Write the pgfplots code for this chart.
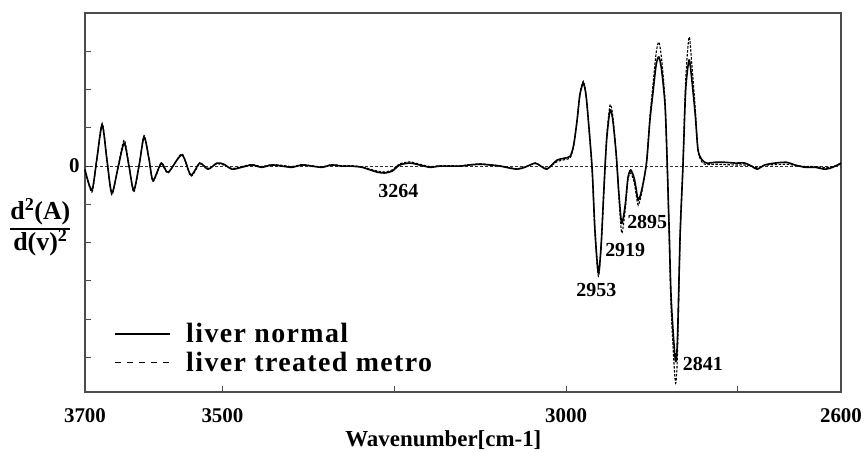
\documentclass[border=0pt]{standalone}
\usepackage{fontspec}
\setmainfont{Liberation Serif}
\newfontfamily\legfont[LetterSpace=5]{Liberation Serif}
\usepackage{pgfplots}
\pgfplotsset{compat=1.18}

\pgfplotstableread{
w v
3700 -0.10
3690 -0.63
3683 0.15
3675 1.07
3668 0.15
3661 -0.70
3652 -0.05
3643 0.60
3636 0.00
3629 -0.63
3621 0.05
3614 0.76
3607 0.20
3601 -0.37
3589 0.08
3579 -0.16
3559 0.29
3546 -0.23
3533 0.08
3521 -0.08
3508 0.08
3498 0.05
3486 -0.08
3472 -0.03
3457 0.03
3443 -0.03
3428 0.03
3413 0.00
3399 -0.03
3384 0.03
3370 0.00
3355 -0.03
3341 0.03
3326 0.00
3312 0.00
3297 -0.03
3285 -0.10
3274 -0.16
3264 -0.18
3253 -0.13
3242 0.03
3227 0.08
3213 0.03
3198 -0.03
3184 0.00
3169 0.00
3154 0.00
3140 0.03
3125 0.05
3111 0.03
3096 0.00
3082 -0.05
3071 -0.08
3060 -0.03
3045 0.08
3037 0.00
3028 -0.08
3021 0.03
3013 0.16
3002 0.21
2994 0.26
2989 0.55
2984 1.20
2980 1.85
2975 2.17
2971 1.85
2967 1.07
2962 -0.10
2958 -1.67
2953 -2.79
2949 -2.06
2945 -0.63
2941 0.68
2936 1.46
2932 1.20
2927 0.29
2923 -0.76
2919 -1.49
2914 -1.02
2910 -0.31
2906 -0.10
2901 -0.31
2898 -0.60
2895 -0.89
2890 -0.63
2883 0.08
2878 1.20
2874 1.85
2869 2.64
2865 2.85
2861 2.51
2856 1.59
2853 0.16
2850 -1.67
2847 -3.50
2841 -5.07
2838 -4.54
2834 -1.75
2830 -0.03
2826 1.98
2821 2.77
2817 2.25
2812 1.33
2808 0.42
2802 0.16
2795 0.08
2783 0.10
2769 0.10
2754 0.08
2740 0.08
2730 0.00
2722 -0.08
2711 0.03
2696 0.08
2679 0.10
2667 0.03
2652 -0.03
2638 -0.03
2623 -0.08
2612 -0.03
2600 0.08
}\normal

\pgfplotstableread{
w v
3700 -0.08
3690 -0.68
3683 0.15
3675 1.12
3668 0.18
3661 -0.75
3652 -0.02
3643 0.68
3636 0.02
3629 -0.68
3621 0.05
3614 0.80
3607 0.20
3601 -0.40
3589 0.06
3579 -0.18
3559 0.32
3546 -0.26
3533 0.06
3521 -0.06
3508 0.06
3498 0.03
3486 -0.06
3472 -0.01
3457 0.04
3443 -0.01
3428 0.04
3413 0.02
3399 -0.01
3384 0.04
3370 0.01
3355 -0.02
3341 0.04
3326 0.01
3312 0.01
3297 -0.02
3285 -0.08
3274 -0.13
3264 -0.15
3253 -0.10
3242 0.06
3227 0.11
3213 0.05
3198 -0.01
3184 0.01
3169 0.01
3154 0.01
3140 0.04
3125 0.06
3111 0.04
3096 0.01
3082 -0.04
3071 -0.07
3060 -0.02
3045 0.07
3037 0.01
3028 -0.06
3021 0.02
3013 0.12
3002 0.17
2994 0.22
2989 0.52
2984 1.18
2980 1.87
2975 2.22
2971 1.88
2967 1.05
2962 -0.15
2958 -1.75
2953 -2.88
2949 -2.10
2945 -0.60
2941 0.75
2936 1.60
2932 1.30
2927 0.30
2923 -0.85
2919 -1.75
2914 -1.15
2910 -0.35
2906 -0.18
2901 -0.42
2898 -0.75
2895 -1.02
2890 -0.70
2883 0.10
2878 1.30
2874 2.05
2869 2.95
2865 3.24
2861 2.80
2856 1.70
2853 0.10
2850 -1.85
2847 -3.80
2841 -5.64
2838 -4.95
2834 -1.85
2830 0.05
2826 2.25
2821 3.37
2817 2.65
2812 1.50
2808 0.40
2802 0.10
2795 0.04
2783 0.05
2769 0.04
2754 0.03
2740 0.03
2730 0.00
2722 -0.04
2711 0.02
2696 0.04
2679 0.05
2667 0.02
2652 -0.01
2638 -0.01
2623 -0.04
2612 -0.01
2600 0.05
}\treated

\begin{document}
\begin{tikzpicture}
\begin{axis}[
  width=756bp, height=379bp, scale only axis,
  x dir=reverse, xmin=2600, xmax=3700, ymin=-5.9, ymax=4,
  xtick={3700,3500,3250,3000,2750,2600},
  xticklabels={3700,3500,,3000,,2600},
  ytick={-5,-4,-3,-2,-1,0,1,2,3},
  yticklabels={{},{},{},{},{},0,{},{},{}},
  xtick pos=bottom, ytick pos=left, tick align=inside,
  major tick length=6bp,
  tick style={black!70, line width=1bp},
  axis line style={black!70, line width=1.3bp},
  /pgf/number format/assume math mode=true,
  ticklabel style={font=\bfseries\fontsize{21}{21}\selectfont},
  xticklabel style={yshift=-13bp},
  yticklabel style={xshift=-2bp},
  xlabel={Wavenumber[cm-1]},
  xlabel style={font=\bfseries\fontsize{23}{23}\selectfont, at={(axis description cs:0.474,0)}, anchor=center, yshift=-48bp},
  clip=false,
  legend style={draw=none, fill=none, at={(axis description cs:0.035,0.192)}, anchor=north west,
    font=\legfont\bfseries\fontsize{28}{28}\selectfont, row sep=4bp, cells={anchor=west}},
  legend image code/.code={\draw[#1] (0bp,0bp) -- (55bp,0bp); \path (68bp,0bp);},
]
\addplot[black!80, line width=0.7bp, dash pattern=on 3bp off 2bp, forget plot] coordinates {(3700,0) (2600,0)};
\addplot[black, line width=1.6bp, smooth, tension=0.45] table[x=w, y=v] {\normal};
\addplot[black, line width=1.1bp, dash pattern=on 2.5bp off 1.5bp, smooth, tension=0.45,
  legend image code/.code={\draw[black, line width=1.3bp, dash pattern=on 6bp off 6bp] (0bp,0bp) -- (55bp,0bp); \path (68bp,0bp);}]
  table[x=w, y=v] {\treated};
\legend{liver normal, liver treated metro}

\node[font=\bfseries\fontsize{20}{20}\selectfont] at (axis cs:3244,-0.65) {3264};
\node[font=\bfseries\fontsize{20}{20}\selectfont] at (axis cs:2956,-3.24) {2953};
\node[font=\bfseries\fontsize{20}{20}\selectfont] at (axis cs:2914,-2.19) {2919};
\node[font=\bfseries\fontsize{20}{20}\selectfont] at (axis cs:2882,-1.46) {2895};
\node[font=\bfseries\fontsize{20}{20}\selectfont] at (axis cs:2801,-5.17) {2841};

\node[font=\bfseries\fontsize{26}{26}\selectfont, inner sep=0pt] at (axis description cs:-0.059,0.43)
  {\arrayrulewidth=1.6bp\renewcommand{\arraystretch}{1.12}\begin{tabular}{@{}c@{}}d\textsuperscript{2}(A)\\\hline d(v)\textsuperscript{2}\end{tabular}};
\end{axis}
\pgfresetboundingbox
\path[use as bounding box] ([shift={(-85bp,-61bp)}]current axis.south west) rectangle ([shift={(25bp,13bp)}]current axis.north east);
\end{tikzpicture}
\end{document}
